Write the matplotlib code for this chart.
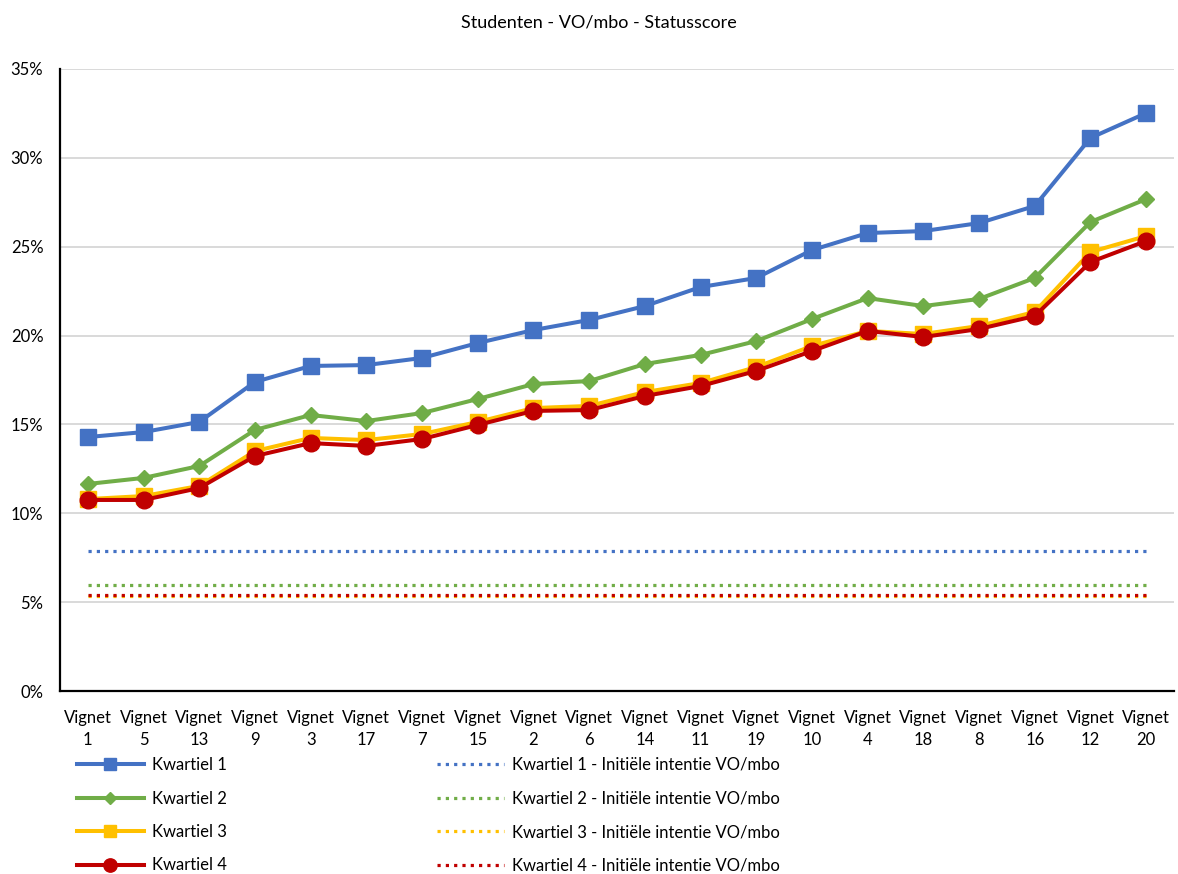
import numpy as np
import matplotlib.pyplot as plt
from matplotlib.ticker import PercentFormatter

plt.rcParams['font.family'] = ['Lato', 'DejaVu Sans']

# categories along the x axis
vignetten = ['1', '5', '13', '9', '3', '17', '7', '15', '2', '6',
             '14', '11', '19', '10', '4', '18', '8', '16', '12', '20']

# statusscore per kwartiel (in %)
kwartiel_1 = [14.29, 14.57, 15.14, 17.39, 18.29, 18.34, 18.74, 19.58, 20.31, 20.88,
              21.66, 22.73, 23.24, 24.81, 25.77, 25.88, 26.33, 27.29, 31.12, 32.52]
kwartiel_2 = [11.65, 11.99, 12.66, 14.69, 15.53, 15.19, 15.64, 16.43, 17.27, 17.44,
              18.40, 18.91, 19.69, 20.93, 22.11, 21.66, 22.06, 23.24, 26.39, 27.68]
kwartiel_3 = [10.80, 10.97, 11.54, 13.50, 14.24, 14.12, 14.46, 15.14, 15.92, 16.04,
              16.82, 17.33, 18.23, 19.41, 20.26, 20.09, 20.54, 21.33, 24.70, 25.60]
kwartiel_4 = [10.75, 10.75, 11.42, 13.22, 13.95, 13.79, 14.18, 14.97, 15.76, 15.81,
              16.60, 17.16, 18.01, 19.13, 20.26, 19.92, 20.37, 21.10, 24.14, 25.32]

# initiele intentie VO/mbo per kwartiel (in %)
intentie = [7.88, 5.96, 5.33, 5.38]

kleuren = ['#4472C4', '#70AD47', '#FFC000', '#C00000']
markers = ['s', 'D', 's', 'o']
msizes = [11, 8, 11, 12]

fig = plt.figure(figsize=(11.78, 8.74), dpi=100)
ax = fig.add_axes([60 / 1178, 1 - 691 / 874, 1114 / 1178, 622 / 874])

x = np.arange(len(vignetten))
reeksen = [kwartiel_1, kwartiel_2, kwartiel_3, kwartiel_4]
handles = []
for i, y in enumerate(reeksen):
    h, = ax.plot(x, y, color=kleuren[i], lw=2.9, marker=markers[i], ms=msizes[i],
                 label='Kwartiel %d' % (i + 1), zorder=3 + i)
    handles.append(h)

for i, v in enumerate(intentie):
    h, = ax.plot(x, [v] * len(x), color=kleuren[i], lw=2.3, ls=(0, (1, 1.6)),
                 label='Kwartiel %d - Initiële intentie VO/mbo' % (i + 1), zorder=2)
    handles.append(h)

ax.set_xlim(-0.5, len(x) - 0.5)
ax.set_ylim(0, 35)
ax.set_yticks(np.arange(0, 36, 5))
ax.yaxis.set_major_formatter(PercentFormatter(decimals=0))
ax.set_xticks(x)
ax.set_xticklabels(['Vignet\n' + v for v in vignetten], fontsize=12, linespacing=1.45)
ax.tick_params(axis='y', labelsize=12, length=0, pad=12)
ax.tick_params(axis='x', length=0, pad=14)
ax.grid(axis='y', color='#d9d9d9', lw=1.4)
ax.set_axisbelow(True)
for s in ['top', 'right']:
    ax.spines[s].set_visible(False)
ax.spines['left'].set_linewidth(1.6)
ax.spines['bottom'].set_linewidth(1.6)

fig.text(0.508, 1 - 22 / 874, 'Studenten - VO/mbo - Statusscore', ha='center', va='center', fontsize=13)

fig.legend(handles=handles, ncol=2, loc='upper left', bbox_to_anchor=(62 / 1178, 1 - 742 / 874),
           frameon=False, fontsize=12, handlelength=4.0, handletextpad=0.5, markerscale=0.8,
           columnspacing=12.6, labelspacing=1.05)

fig.savefig('out.png', dpi=100)
